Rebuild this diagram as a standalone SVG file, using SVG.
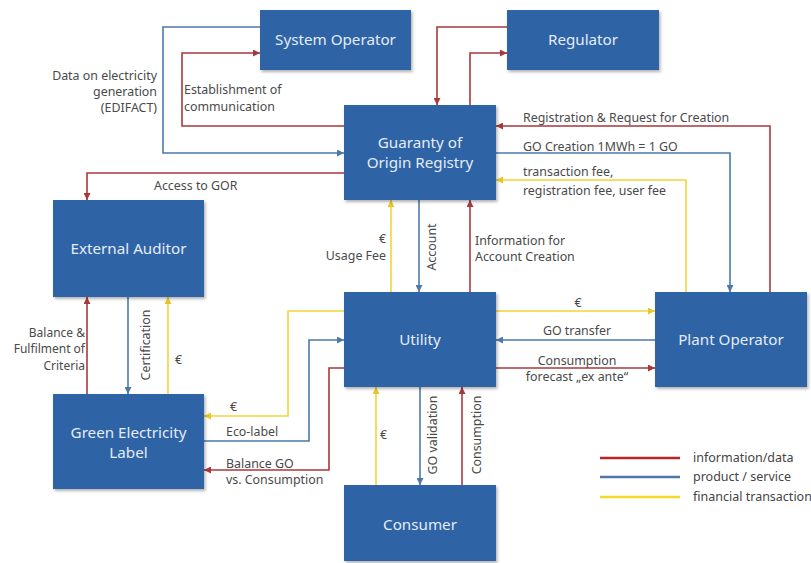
<svg xmlns="http://www.w3.org/2000/svg" width="811" height="563" viewBox="0 0 811 563">
<defs>
<style>
.box{fill:#2f63a5;filter:url(#sh)}
.bt{font-family:"Noto Sans","Liberation Sans",sans-serif;font-size:15.2px;fill:#e4ecf7;text-anchor:middle}
.lb{font-family:"Noto Sans","Liberation Sans",sans-serif;font-size:12.4px;fill:#4a4a4a}
.sm{font-size:12px}
.lg{font-family:"Noto Sans","Liberation Sans",sans-serif;font-size:12.5px;fill:#444}
.r{fill:none;stroke:#a8393b;stroke-width:1.6}
.b{fill:none;stroke:#4d79a8;stroke-width:1.6}
.y{fill:none;stroke:#f1d53a;stroke-width:1.6}
.r.a{marker-end:url(#mr)}
.b.a{marker-end:url(#mb)}
.y.a{marker-end:url(#my)}
.end{text-anchor:end}
.mid{text-anchor:middle}
</style>
<filter id="sh" x="-10%" y="-10%" width="125%" height="125%">
<feDropShadow dx="1.5" dy="2" stdDeviation="1.5" flood-color="#000" flood-opacity="0.3"/>
</filter>
<marker id="mr" viewBox="0 0 8 8" refX="8" refY="4" markerWidth="7" markerHeight="7" markerUnits="userSpaceOnUse" orient="auto"><path d="M0,0L8,4L0,8z" fill="#a8393b"/></marker>
<marker id="mb" viewBox="0 0 8 8" refX="8" refY="4" markerWidth="7" markerHeight="7" markerUnits="userSpaceOnUse" orient="auto"><path d="M0,0L8,4L0,8z" fill="#4d79a8"/></marker>
<marker id="my" viewBox="0 0 8 8" refX="8" refY="4" markerWidth="7" markerHeight="7" markerUnits="userSpaceOnUse" orient="auto"><path d="M0,0L8,4L0,8z" fill="#e8c820"/></marker>
</defs>
<rect width="811" height="563" fill="#fff"/>

<g id="connectors">
<path class="b a" d="M260,27H163V153H344"/>
<path class="r a" d="M344,126H182V53H260"/>
<path class="r a" d="M344,173H87V200"/>
<path class="r a" d="M507,27H437V105"/>
<path class="r a" d="M470,105V53H507"/>
<path class="r a" d="M770,292V126H496"/>
<path class="b a" d="M496,153H730V292"/>
<path class="y a" d="M686,292V180H496"/>
<path class="y a" d="M391,292V200"/>
<path class="b a" d="M419,200V292"/>
<path class="r a" d="M470,292V200"/>
<path class="y a" d="M496,311H655"/>
<path class="b a" d="M655,340H496"/>
<path class="r a" d="M496,368H655"/>
<path class="r a" d="M87,394V297"/>
<path class="b a" d="M128,297V394"/>
<path class="y a" d="M168,394V297"/>
<path class="y a" d="M344,311H288V416H204"/>
<path class="b a" d="M204,441H309V340H344"/>
<path class="r a" d="M344,368H329V470H204"/>
<path class="y a" d="M376,485V387"/>
<path class="b a" d="M420,387V485"/>
<path class="r a" d="M462,485V387"/>
</g>

<g id="connector-labels">
<text class="lb end" x="157" y="80">Data on electricity</text>
<text class="lb end" x="157" y="96">generation</text>
<text class="lb end" x="157" y="112">(EDIFACT)</text>
<text class="lb" x="184" y="94">Establishment of</text>
<text class="lb" x="184" y="111">communication</text>
<text class="lb" x="154" y="190">Access to GOR</text>
<text class="lb" x="523" y="122">Registration &amp; Request for Creation</text>
<text class="lb" x="523" y="151">GO Creation 1MWh = 1 GO</text>
<text class="lb" x="523" y="176">transaction fee,</text>
<text class="lb" x="523" y="195">registration fee, user fee</text>
<text class="lb end" x="386" y="243">€</text>
<text class="lb end" x="386" y="260">Usage Fee</text>
<text class="lb mid" transform="translate(436,247) rotate(-90)">Account</text>
<text class="lb" x="475" y="245">Information for</text>
<text class="lb" x="475" y="261">Account Creation</text>
<text class="lb sm end" x="85" y="337">Balance &amp;</text>
<text class="lb sm end" x="85" y="353">Fulfilment of</text>
<text class="lb sm end" x="85" y="370">Criteria</text>
<text class="lb mid" transform="translate(150,345) rotate(-90)">Certification</text>
<text class="lb" x="175" y="364">€</text>
<text class="lb mid" x="578" y="307">€</text>
<text class="lb mid" x="577" y="335">GO transfer</text>
<text class="lb mid" x="577" y="365">Consumption</text>
<text class="lb mid" x="577" y="381">forecast „ex ante“</text>
<text class="lb" x="230" y="411">€</text>
<text class="lb" x="226" y="436">Eco-label</text>
<text class="lb" x="226" y="468">Balance GO</text>
<text class="lb" x="226" y="484">vs. Consumption</text>
<text class="lb" x="380" y="439">€</text>
<text class="lb mid" transform="translate(437,435) rotate(-90)">GO validation</text>
<text class="lb mid" transform="translate(481,435) rotate(-90)">Consumption</text>
</g>

<g id="system-operator"><rect class="box" x="260" y="10" width="151" height="60"/><text class="bt" x="335.5" y="45">System Operator</text></g>
<g id="regulator"><rect class="box" x="507" y="10" width="152" height="60"/><text class="bt" x="583" y="45">Regulator</text></g>
<g id="gor"><rect class="box" x="344" y="105" width="152" height="95"/><text class="bt" x="420" y="148">Guaranty of</text><text class="bt" x="420" y="168">Origin Registry</text></g>
<g id="external-auditor"><rect class="box" x="53" y="200" width="151" height="97"/><text class="bt" x="128.5" y="254">External Auditor</text></g>
<g id="utility"><rect class="box" x="344" y="292" width="152" height="95"/><text class="bt" x="420" y="345">Utility</text></g>
<g id="plant-operator"><rect class="box" x="655" y="292" width="152" height="95"/><text class="bt" x="731" y="345">Plant Operator</text></g>
<g id="green-label"><rect class="box" x="53" y="394" width="151" height="95"/><text class="bt" x="128.5" y="438">Green Electricity</text><text class="bt" x="128.5" y="458">Label</text></g>
<g id="consumer"><rect class="box" x="344" y="485" width="152" height="76"/><text class="bt" x="420" y="530">Consumer</text></g>

<g id="legend">
<line x1="600" y1="458" x2="680" y2="458" stroke="#b8262c" stroke-width="2.5"/>
<line x1="600" y1="477" x2="680" y2="477" stroke="#4d79a8" stroke-width="2.5"/>
<line x1="600" y1="497" x2="680" y2="497" stroke="#f2dc2a" stroke-width="2.5"/>
<text class="lg" x="693" y="462">information/data</text>
<text class="lg" x="693" y="481">product / service</text>
<text class="lg" x="693" y="501">financial transaction</text>
</g>
</svg>
